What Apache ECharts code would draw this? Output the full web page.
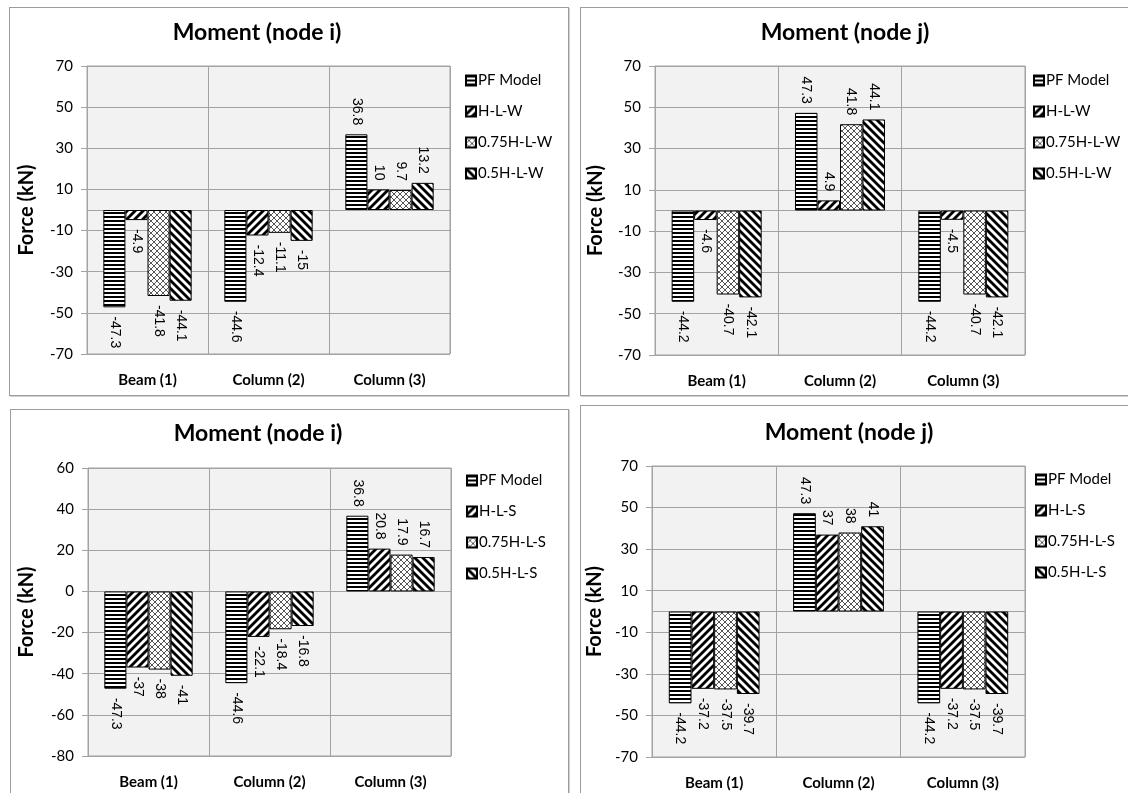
<!DOCTYPE html>
<html>
<head>
<meta charset="utf-8">
<script src="https://cdn.jsdelivr.net/npm/echarts@6/dist/echarts.min.js"></script>
<style>
  body { margin: 0; background: #fff; width: 1128px; height: 793px; overflow: hidden; position: relative; }
  .panel { position: absolute; border: 1px solid #9c9c9c; box-shadow: 1px 1px 0 #d0d0d0; box-sizing: border-box; background: #fff; }
  .panel .chart { position: absolute; left: 0; top: 0; right: 0; bottom: 0; }
</style>
</head>
<body>
<div class="panel" style="left:9px;top:7px;width:560px;height:389px"><div class="chart" id="c1"></div></div>
<div class="panel" style="left:580px;top:7px;width:560px;height:389px"><div class="chart" id="c2"></div></div>
<div class="panel" style="left:10px;top:409px;width:559px;height:400px"><div class="chart" id="c3"></div></div>
<div class="panel" style="left:580px;top:405px;width:560px;height:400px"><div class="chart" id="c4"></div></div>
<script>
const categories = ['Beam (1)', 'Column (2)', 'Column (3)']
const namesW = ['PF Model', 'H-L-W', '0.75H-L-W', '0.5H-L-W']
const namesS = ['PF Model', 'H-L-S', '0.75H-L-S', '0.5H-L-S']

// tick labels
const ticksOdd = [-70, -50, -30, -10, 10, 30, 50, 70]
const ticksEven = [-80, -60, -40, -20, 0, 20, 40, 60]

// Moment (node i), W cases
const iW_pf = [-47.3, -44.6, 36.8]
const iW_hl = [-4.9, -12.4, 10]
const iW_075 = [-41.8, -11.1, 9.7]
const iW_05 = [-44.1, -15, 13.2]

// Moment (node j), W cases
const jW_pf = [-44.2, 47.3, -44.2]
const jW_hl = [-4.6, 4.9, -4.5]
const jW_075 = [-40.7, 41.8, -40.7]
const jW_05 = [-42.1, 44.1, -42.1]

// Moment (node i), S cases
const iS_pf = [-47.3, -44.6, 36.8]
const iS_hl = [-37, -22.1, 20.8]
const iS_075 = [-38, -18.4, 17.9]
const iS_05 = [-41, -16.8, 16.7]

// Moment (node j), S cases
const jS_pf = [-44.2, 47.3, -44.2]
const jS_hl = [-37.2, 37, -37.2]
const jS_075 = [-37.5, 38, -37.5]
const jS_05 = [-39.7, 41, -39.7]

// fill patterns like the excel hatches
function makePattern(kind) {
  const c = document.createElement('canvas')
  const ctx = c.getContext('2d')
  if (kind === 'horiz') {
    c.width = 4
    c.height = 4
    ctx.fillStyle = '#fff'
    ctx.fillRect(0, 0, 4, 4)
    ctx.fillStyle = '#000'
    ctx.fillRect(0, 0, 4, 2)
  } else if (kind === 'fwd' || kind === 'back') {
    const s = 8
    c.width = s
    c.height = s
    ctx.fillStyle = '#fff'
    ctx.fillRect(0, 0, s, s)
    ctx.strokeStyle = '#000'
    ctx.lineWidth = 2.8
    for (let k = -1; k <= 1; k++) {
      ctx.beginPath()
      if (kind === 'fwd') {
        ctx.moveTo(k * s - 1, s + 1)
        ctx.lineTo(k * s + s + 1, -1)
      } else {
        ctx.moveTo(k * s - 1, -1)
        ctx.lineTo(k * s + s + 1, s + 1)
      }
      ctx.stroke()
    }
  } else {
    const s = 6
    c.width = s
    c.height = s
    ctx.fillStyle = '#fff'
    ctx.fillRect(0, 0, s, s)
    ctx.strokeStyle = '#444'
    ctx.lineWidth = 0.9
    for (let k = -1; k <= 1; k++) {
      ctx.beginPath()
      ctx.moveTo(k * s, s)
      ctx.lineTo(k * s + s, 0)
      ctx.moveTo(k * s, 0)
      ctx.lineTo(k * s + s, s)
      ctx.stroke()
    }
  }
  return { image: c, repeat: 'repeat' }
}

const fills = [makePattern('horiz'), makePattern('fwd'), makePattern('cross'), makePattern('back')]
const gridColor = '#a3a3a3'

function barSeries(name, values, idx) {
  const s = {
    name: name,
    type: 'bar',
    barGap: '0%',
    barCategoryGap: '27%',
    itemStyle: {
      color: fills[idx],
      borderColor: '#000',
      borderWidth: 1
    },
    label: {
      show: true,
      rotate: -90,
      distance: 9,
      verticalAlign: 'middle',
      fontFamily: 'Liberation Sans',
      fontSize: 14,
      color: '#000'
    },
    data: values.map(v => {
      return {
        value: v,
        label: v < 0 ? { position: 'bottom', align: 'left' } : { position: 'top', align: 'right' }
      }
    })
  }
  if (idx === 0) {
    // line at zero
    s.markLine = {
      silent: true,
      z: 1,
      symbol: 'none',
      label: { show: false },
      lineStyle: { color: gridColor, type: 'solid', width: 1 },
      data: [{ yAxis: 0 }]
    }
  }
  return s
}

function buildOption(cfg) {
  return {
    animation: false,
    textStyle: { fontFamily: 'Lato' },
    title: {
      text: cfg.title,
      left: cfg.titleX,
      top: cfg.titleY,
      padding: 0,
      textAlign: 'center',
      textStyle: { fontFamily: 'Lato', fontWeight: 'bold', fontSize: 23, color: '#000' }
    },
    legend: {
      orient: 'vertical',
      left: cfg.legendX,
      top: cfg.legendY,
      padding: 0,
      icon: 'rect',
      itemWidth: 10,
      itemHeight: 10,
      itemGap: 16,
      textStyle: { fontFamily: 'Lato', fontSize: 15, color: '#000', padding: [0, 0, 0, -3] },
      data: cfg.names
    },
    grid: {
      left: cfg.grid[0],
      top: cfg.grid[1],
      width: cfg.grid[2],
      height: cfg.grid[3],
      outerBoundsMode: 'none',
      containLabel: false,
      show: true,
      backgroundColor: '#f2f2f2',
      borderColor: gridColor,
      borderWidth: 1
    },
    xAxis: {
      type: 'category',
      data: categories,
      axisLine: { show: false },
      axisTick: { show: false },
      splitLine: { show: true, lineStyle: { color: gridColor, width: 1 } },
      axisLabel: { margin: 19, fontFamily: 'Lato', fontWeight: 'bold', fontSize: 15, color: '#000' }
    },
    yAxis: {
      type: 'value',
      min: cfg.ticks[0],
      max: cfg.ticks[cfg.ticks.length - 1],
      name: 'Force (kN)',
      nameLocation: 'middle',
      nameGap: cfg.nameGap,
      nameTextStyle: { fontFamily: 'Lato', fontWeight: 'bold', fontSize: 20, color: '#000' },
      axisLine: { show: true, lineStyle: { color: gridColor } },
      axisTick: { show: true, length: 6, customValues: cfg.ticks, lineStyle: { color: gridColor } },
      axisLabel: { customValues: cfg.ticks, margin: 14, fontFamily: 'Lato', fontSize: 15, color: '#000' },
      splitLine: { show: true, lineStyle: { color: gridColor, width: 1 } }
    },
    series: cfg.series.map((vals, i) => barSeries(cfg.names[i], vals, i))
  }
}

const panels = [
  {
    id: 'c1', title: 'Moment (node i)', titleX: 247, titleY: 13,
    legendX: 455, legendY: 65, grid: [77, 58, 363, 288], nameGap: 50,
    ticks: ticksOdd, names: namesW, series: [iW_pf, iW_hl, iW_075, iW_05]
  },
  {
    id: 'c2', title: 'Moment (node j)', titleX: 264, titleY: 13,
    legendX: 452, legendY: 65, grid: [74, 58, 370, 289], nameGap: 49,
    ticks: ticksOdd, names: namesW, series: [jW_pf, jW_hl, jW_075, jW_05]
  },
  {
    id: 'c3', title: 'Moment (node i)', titleX: 247, titleY: 12,
    legendX: 455, legendY: 63, grid: [77, 58, 363, 288], nameGap: 51,
    ticks: ticksEven, names: namesS, series: [iS_pf, iS_hl, iS_075, iS_05]
  },
  {
    id: 'c4', title: 'Moment (node j)', titleX: 268, titleY: 15,
    legendX: 454, legendY: 66, grid: [71, 60, 373, 291], nameGap: 46,
    ticks: ticksOdd, names: namesS, series: [jS_pf, jS_hl, jS_075, jS_05]
  }
]

panels.forEach(p => {
  const chart = echarts.init(document.getElementById(p.id))
  chart.setOption(buildOption(p))
})
</script>
</body>
</html>
